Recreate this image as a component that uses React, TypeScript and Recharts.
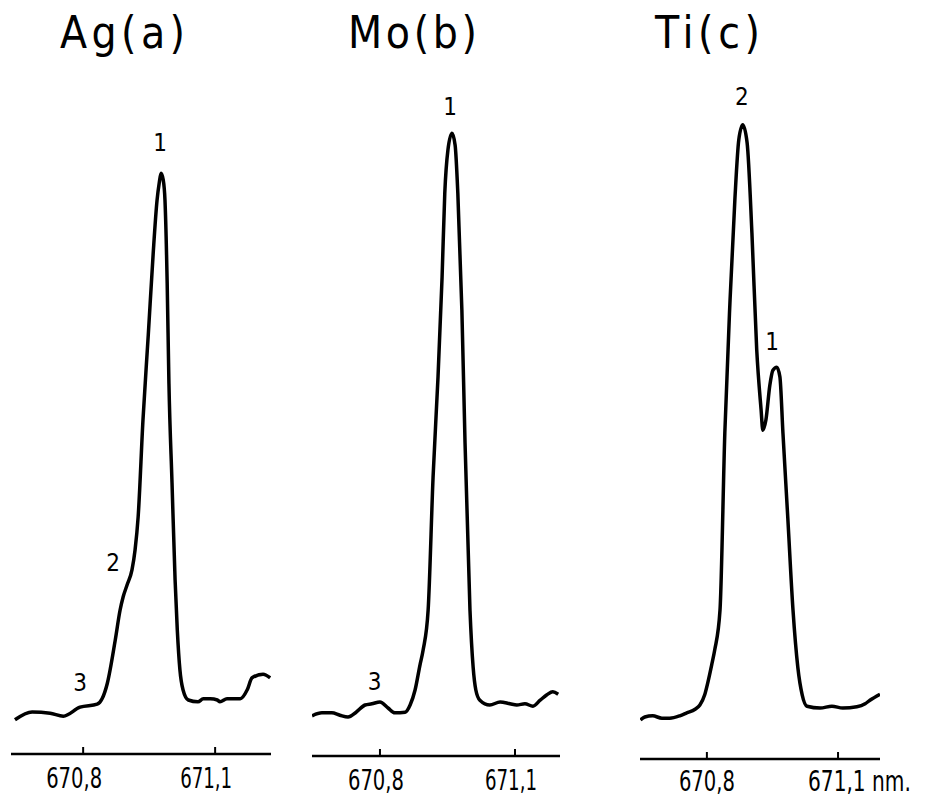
import React from "react";
import { LineChart, Line, XAxis, YAxis, ReferenceDot } from "recharts";

// wavelength (nm) and relative intensity
const agWavelength = [670.645, 670.684, 670.725, 670.755, 670.793, 670.832, 670.843, 670.855, 670.873, 670.884, 670.891, 670.9, 670.911, 670.918, 670.925, 670.936, 670.948, 670.959, 670.968, 670.973, 670.977, 670.982, 670.986, 670.991, 670.995, 671.002, 671.009, 671.014, 671.02, 671.027, 671.039, 671.061, 671.073, 671.089, 671.105, 671.111, 671.127, 671.157, 671.173, 671.184, 671.209, 671.225];
const agIntensity = [5.7, 7.0, 6.8, 6.3, 7.8, 8.3, 9.2, 11.8, 19.0, 24.0, 26.2, 28.2, 30.7, 34.0, 39.5, 55.7, 69.8, 83.2, 92.3, 95.2, 96.8, 95.7, 92.3, 78.5, 61.8, 45.2, 29.0, 20.7, 14.0, 10.7, 9.0, 8.7, 9.2, 9.2, 9.0, 8.7, 9.2, 9.2, 10.7, 12.7, 13.3, 12.7];

const moWavelength = [670.649, 670.671, 670.693, 670.711, 670.729, 670.747, 670.767, 670.782, 670.8, 670.818, 670.833, 670.856, 670.867, 670.878, 670.889, 670.896, 670.907, 670.918, 670.929, 670.938, 670.944, 670.951, 670.96, 670.967, 670.973, 670.982, 670.989, 671.0, 671.007, 671.013, 671.022, 671.044, 671.067, 671.089, 671.104, 671.122, 671.14, 671.156, 671.171, 671.184, 671.196];
const moIntensity = [6.7, 7.2, 7.2, 6.8, 6.5, 7.3, 8.5, 8.7, 9.0, 8.0, 7.2, 7.3, 8.5, 11.0, 15.2, 17.7, 24.3, 46.5, 63.2, 79.8, 93.8, 101.0, 103.8, 101.8, 93.8, 74.3, 52.2, 24.3, 14.8, 11.0, 9.3, 8.5, 9.0, 8.7, 8.5, 8.7, 8.3, 9.3, 10.2, 10.7, 10.3];

const tiWavelength = [670.648, 670.658, 670.676, 670.697, 670.715, 670.738, 670.754, 670.773, 670.784, 670.795, 670.802, 670.811, 670.818, 670.83, 670.841, 670.853, 670.864, 670.873, 670.882, 670.892, 670.903, 670.914, 670.924, 670.928, 670.935, 670.944, 670.951, 670.96, 670.967, 670.974, 670.985, 670.997, 671.008, 671.018, 671.029, 671.059, 671.086, 671.111, 671.143, 671.162, 671.173, 671.196];
const tiIntensity = [6.5, 7.0, 7.2, 6.8, 6.8, 7.2, 7.7, 8.3, 9.0, 10.7, 12.7, 15.7, 18.2, 24.8, 54.3, 76.5, 93.2, 103.2, 105.7, 102.7, 87.7, 68.2, 58.2, 54.8, 56.5, 62.3, 64.8, 65.3, 63.7, 54.3, 40.3, 24.8, 15.3, 10.7, 8.8, 8.5, 8.8, 8.5, 8.7, 9.2, 9.8, 10.8];

const tickValues = [670.8, 671.1];
const tickLabels = ["670,8", "671,1"];
const tickLabelWidths = [56, 52];

// line markers: [wavelength, intensity, text]
const agMarks: [number, number, string][] = [[670.975, 101.8, "1"], [670.868, 31.8, "2"], [670.793, 11.8, "3"]];
const moMarks: [number, number, string][] = [[670.956, 108.2, "1"], [670.788, 12.3, "3"]];
const tiMarks: [number, number, string][] = [[670.88, 110.3, "2"], [670.949, 69.5, "1"]];

const titles = ["Ag(a)", "Mo(b)", "Ti(c)"];

const W = 927;
const H = 799;
const narrow = '"Liberation Sans Narrow", "DejaVu Sans Condensed", "Liberation Sans", sans-serif';

const zip = (xs: number[], ys: number[]) => xs.map((nm, i) => ({ nm, v: ys[i] }));

interface PanelProps {
  data: { nm: number; v: number }[];
  marks: [number, number, string][];
  domain: [number, number];
  left: number;
  right: number;
  axisY: number;
  labelShift: number;
  labelDrop: number;
  unit?: boolean;
}

function Panel({ data, marks, domain, left, right, axisY, labelShift, labelDrop, unit }: PanelProps) {
  const renderTick = (p: any) => {
    const i = tickValues.indexOf(p.payload.value);
    const last = unit && i === tickLabels.length - 1;
    return (
      <g>
        <line x1={p.x} x2={p.x} y1={p.y} y2={p.y - 7} stroke="#000" strokeWidth={2} />
        {last ? (
          <text
            transform={`translate(${p.x - 30},${p.y + labelDrop}) scale(0.8,1)`}
            fontSize={28}
            fontFamily={narrow}
            fill="#000"
          >
            {tickLabels[i] + " nm."}
          </text>
        ) : (
          <text
            x={p.x + labelShift}
            y={p.y + labelDrop}
            fontSize={28}
            fontFamily={narrow}
            fill="#000"
            textAnchor="middle"
            textLength={tickLabelWidths[i]}
            lengthAdjust="spacingAndGlyphs"
          >
            {tickLabels[i]}
          </text>
        )}
      </g>
    );
  };
  return (
    <div style={{ position: "absolute", left: 0, top: 0 }}>
      <LineChart
        width={W}
        height={H}
        data={data}
        margin={{ top: axisY - 660, left, right: W - right, bottom: H - axisY - 45 }}
      >
        <XAxis
          type="number"
          dataKey="nm"
          domain={domain}
          allowDataOverflow
          ticks={tickValues}
          tickSize={0}
          tickMargin={0}
          tickLine={false}
          height={45}
          axisLine={{ stroke: "#000", strokeWidth: 2.5 }}
          tick={renderTick}
          interval={0}
        />
        <YAxis hide type="number" domain={[0, 110]} />
        <Line
          type="monotone"
          dataKey="v"
          stroke="#000"
          strokeWidth={3.5}
          dot={false}
          isAnimationActive={false}
        />
        {marks.map(([x, y, t]) => (
          <ReferenceDot
            key={t}
            x={x}
            y={y}
            r={0}
            ifOverflow="visible"
            shape={(p: any) => (
              <text
                x={p.cx}
                y={p.cy}
                fontSize={24}
                fontWeight={500}
                fontFamily={narrow}
                textAnchor="middle"
                dominantBaseline="central"
                fill="#000"
              >
                {t}
              </text>
            )}
          />
        ))}
      </LineChart>
    </div>
  );
}

export default function App() {
  const titleX = [60, 348, 655];
  const titleLen = [125, 129, 105];
  return (
    <div style={{ position: "absolute", left: 0, top: 0, width: W, height: H, background: "#fff" }}>
      <Panel data={zip(agWavelength, agIntensity)} marks={agMarks} domain={[670.636, 671.227]} left={11} right={271} axisY={754} labelShift={-9} labelDrop={34} />
      <Panel data={zip(moWavelength, moIntensity)} marks={moMarks} domain={[670.649, 671.2]} left={312} right={560} axisY={756} labelShift={-4} labelDrop={34} />
      <Panel data={zip(tiWavelength, tiIntensity)} marks={tiMarks} domain={[670.647, 671.196]} left={640} right={880} axisY={759} labelShift={0} labelDrop={32} unit />
      <svg width={W} height={H} style={{ position: "absolute", left: 0, top: 0, pointerEvents: "none" }}>
        {titles.map((t, i) => (
          <text
            key={t}
            x={titleX[i]}
            y={48}
            fontSize={44}
            fontFamily={narrow}
            textLength={titleLen[i]}
            lengthAdjust="spacing"
            fill="#000"
          >
            {t}
          </text>
        ))}
      </svg>
    </div>
  );
}
